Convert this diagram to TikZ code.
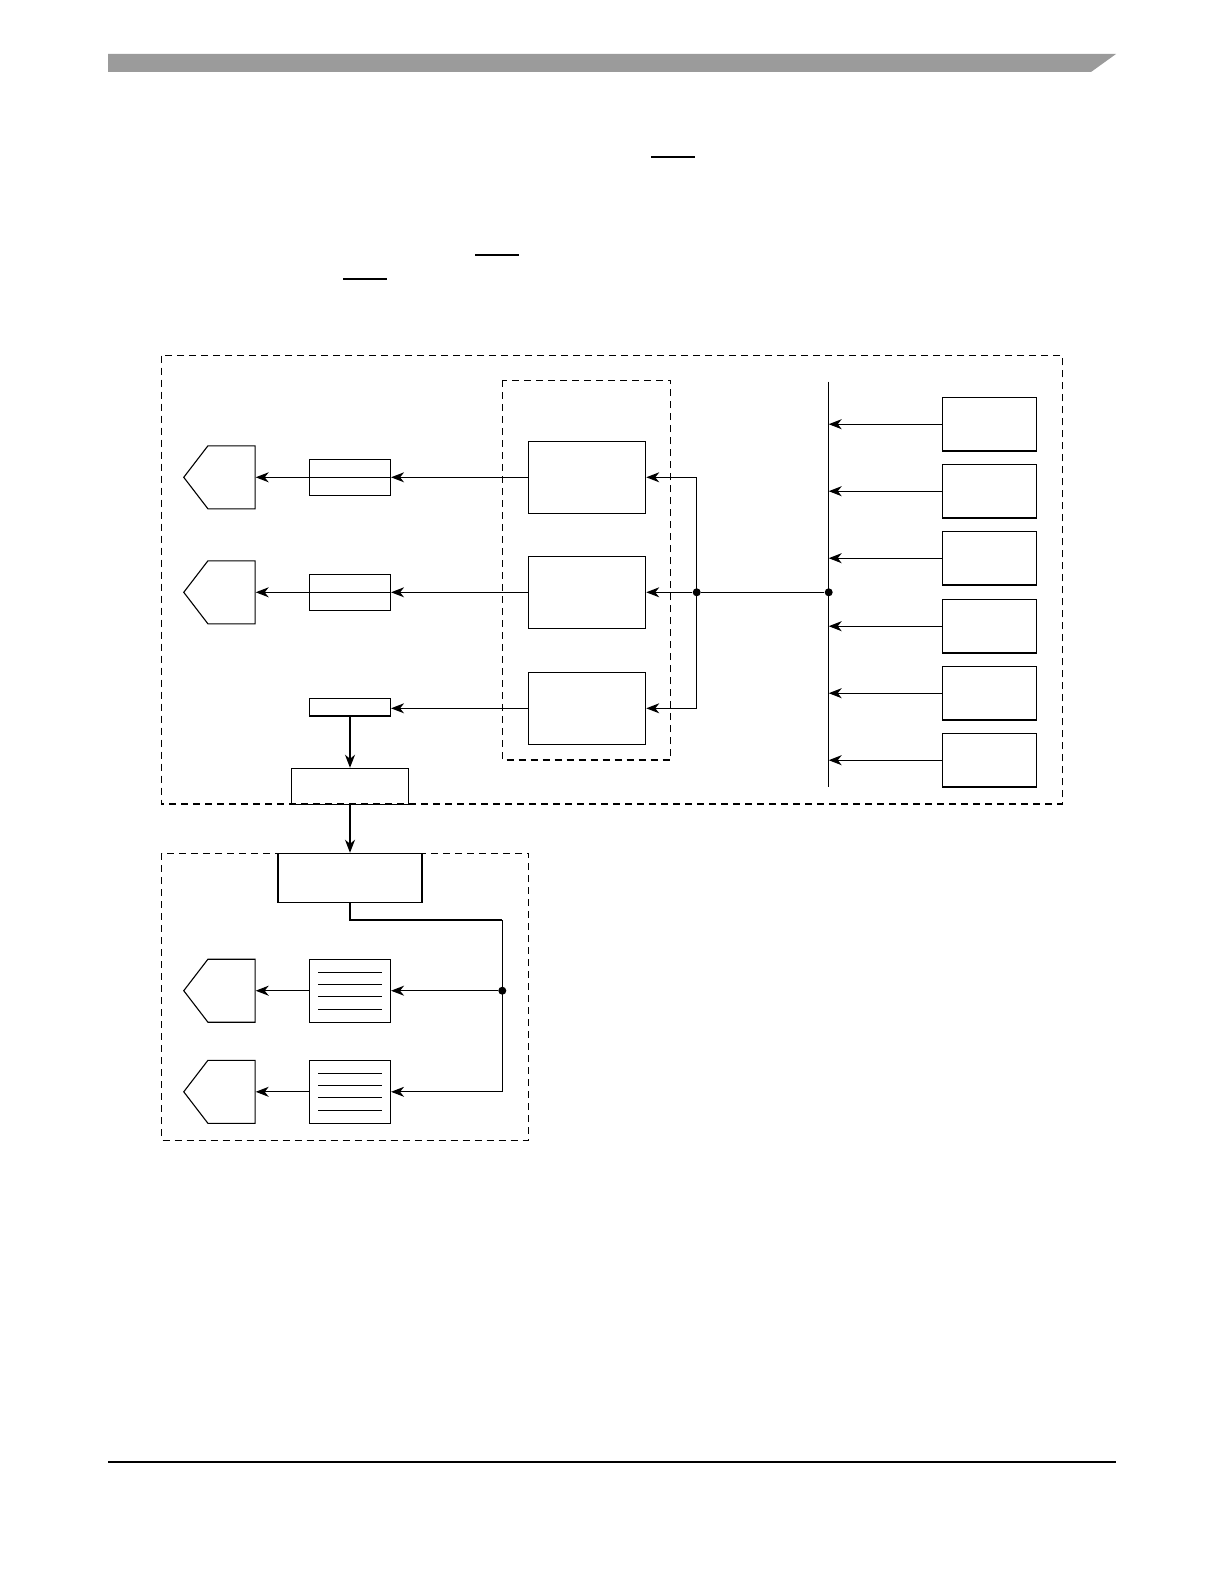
\documentclass[tikz,border=0pt]{standalone}
\usepackage[dvipsnames,svgnames,x11names]{xcolor}
\usepackage{tikz}
\usetikzlibrary{calc, positioning}
\usetikzlibrary{arrows.meta, shapes.symbols}

\definecolor{barGray}{RGB}{155,155,155}

\tikzset{
    arr/.style={-{Stealth[length=6.5pt,width=5pt,inset=2pt]}},
    dashbox/.style={dash pattern=on 3.5pt off 2.5pt},
    blockbox/.style={draw, inner sep=0pt, minimum width=58.7pt, minimum height=36pt},
    srcbox/.style={draw, inner sep=0pt, minimum width=47.2pt, minimum height=26.8pt},
    bufbox/.style={draw, inner sep=0pt, minimum width=40.5pt, minimum height=18pt},
    outport/.style={draw, shape=signal, signal to=west, signal pointer angle=105,
        inner sep=0pt, minimum width=35.7pt, minimum height=31.5pt, anchor=east},
    fifobox/.style={draw, inner sep=0pt, minimum width=40.5pt, minimum height=31.4pt,
        path picture={
            \foreach \dy in {-18.4,-6.4,5.6,18.6}
                \draw ([shift={(-31.7,\dy)}]path picture bounding box.center) -- ++(63.4,0);
        }},
    dot/.style={circle, fill, inner sep=0pt, minimum size=4pt},
}

\begin{document}
\begin{tikzpicture}[x=0.5pt, y=-0.5pt, line width=0.55pt]
    \useasboundingbox (0,0) rectangle (1224,1584);

    % page header and footer
    \fill[barGray] (108,54) -- (1116,54) -- (1091,72) -- (108,72) -- cycle;
    \draw[line width=0.7pt] (108,1462) -- (1116,1462);
    \draw[line width=0.9pt] (651,157) -- (695,157);
    \draw[line width=0.9pt] (475,255) -- (519,255);
    \draw[line width=0.9pt] (343,279) -- (387,279);

    % dashed groups
    \draw[dashbox] (161.6,355.5) rectangle (1062.4,804);
    \draw[dashbox] (502.3,380.3) rectangle (670.7,760);
    \draw[dashbox] (161.6,853.3) rectangle (528.7,1140.2);

    % upper blocks
    \node[blockbox] (ctrlA) at (587,477.3) {};
    \node[blockbox] (ctrlB) at (587,592.3) {};
    \node[blockbox] (ctrlC) at (587,708.3) {};

    \node[bufbox] (bufA) at (350,477.3) {};
    \node[bufbox] (bufB) at (350,592.3) {};
    \node[bufbox, minimum height=8.8pt] (bufC) at (350,707.2) {};

    \node[outport] (pentA) at (255.7,477.3) {};
    \node[outport] (pentB) at (255.7,592.3) {};

    \node[draw, inner sep=0pt, minimum width=58.5pt, minimum height=18pt] (mux) at (350,786.3) {};
    \node[draw, fill=white, inner sep=0pt, minimum width=72pt, minimum height=24.4pt] (dec) at (350,877.7) {};

    % sources on the bus
    \coordinate (busTop) at (828.7,381.7);
    \coordinate (busBot) at (828.7,787);
    \draw (busTop) -- (busBot);
    \foreach \i/\y in {A/424.2, B/491.2, C/558.2, D/626.2, E/693.2, F/760.2} {
        \node[srcbox] (src\i) at (989.5,\y) {};
        \draw[arr] (src\i.west) -- (src\i.west -| busTop);
    }

    \node[dot] (jB) at (828.7,592.3) {};
    \node[dot] (jA) at (696.7,592.3) {};
    \draw (jB) -- (jA);
    \draw[arr] (jA) -- (ctrlB.east);
    \draw[arr] (jA.center) |- (ctrlA.east);
    \draw[arr] (jA.center) |- (ctrlC.east);

    \draw[arr] (ctrlA.west) -- (bufA.east);
    \draw[arr] (bufA.east) -- (pentA.east);
    \draw[arr] (ctrlB.west) -- (bufB.east);
    \draw[arr] (bufB.east) -- (pentB.east);
    \draw[arr] (ctrlC.west) -- (ctrlC.west -| bufC.east);
    \draw[arr] (bufC.south) -- (mux.north);
    \draw[arr] (mux.south) -- (dec.north);

    % lower group
    \node[fifobox] (fifoA) at (350,990.7) {};
    \node[fifobox] (fifoB) at (350,1091.8) {};
    \node[outport] (pentC) at (255.7,990.7) {};
    \node[outport] (pentD) at (255.7,1091.8) {};

    \coordinate (bend) at (502.3,920);
    \node[dot] (jC) at (502.3,990.7) {};
    \draw (dec.south) |- (bend);
    \draw[arr] (bend) |- (fifoB.east);
    \draw[arr] (jC) -- (fifoA.east);
    \draw[arr] (fifoA.west) -- (pentC.east);
    \draw[arr] (fifoB.west) -- (pentD.east);
\end{tikzpicture}
\end{document}
